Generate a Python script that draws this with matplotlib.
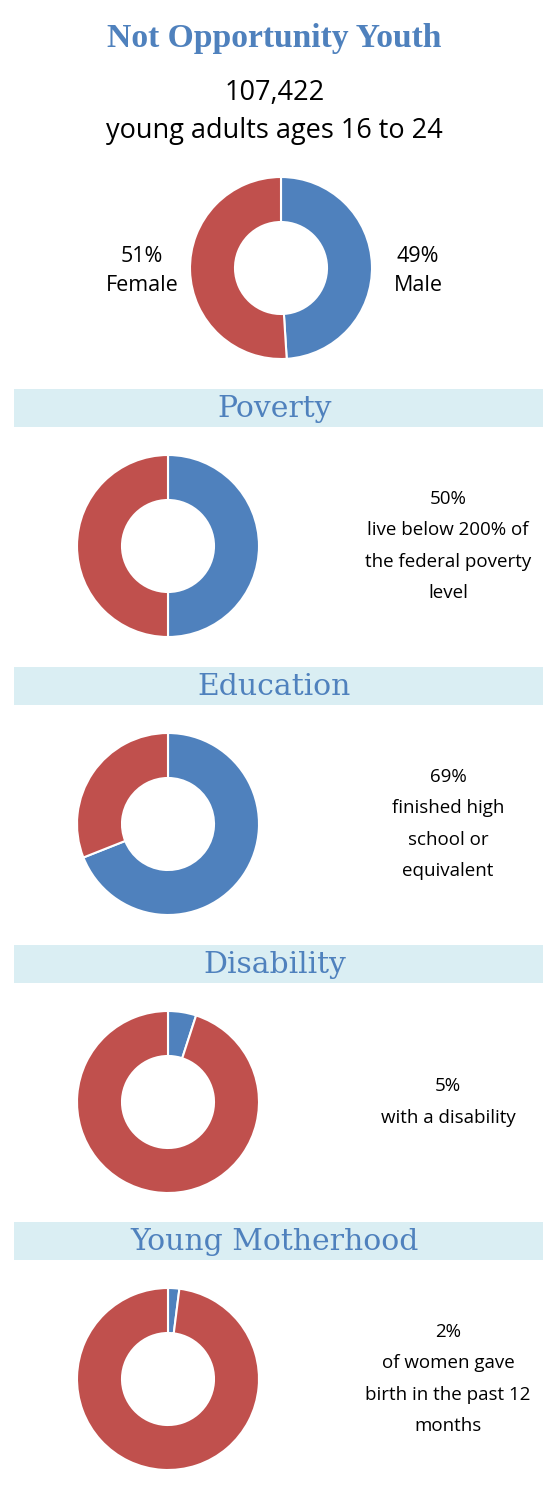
import matplotlib.pyplot as plt
from matplotlib.patches import Rectangle

# data
title = "Not Opportunity Youth"
total_label = "107,422"
total_desc = "young adults ages 16 to 24"
gender_labels = ["Male", "Female"]
gender_pct = [49, 51]
sections = ["Poverty", "Education", "Disability", "Young Motherhood"]
section_pct = [50, 69, 5, 2]
section_text = [
    "live below 200% of\nthe federal poverty\nlevel",
    "finished high\nschool or\nequivalent",
    "with a disability",
    "of women gave\nbirth in the past 12\nmonths",
]

BLUE = "#4F81BD"
RED = "#C0504D"
BAND = "#DAEEF3"

W, H = 549, 1492
fig = plt.figure(figsize=(W / 100, H / 100), dpi=100)
ax = fig.add_axes([0, 0, 1, 1])


def Y(y):
    # pixel row (top-down) -> data y (bottom-up)
    return H - y


def donut(cx, cy, pct):
    ax.pie([pct, 100 - pct], colors=[BLUE, RED], startangle=90, counterclock=False,
           center=(cx, Y(cy)), radius=91,
           wedgeprops=dict(width=45, edgecolor="white", linewidth=1.5))


ax.text(W / 2, Y(39), title, ha="center", va="center", fontsize=24.2,
        fontweight="bold", color=BLUE, family="Liberation Serif")
ax.text(W / 2, Y(93), total_label, ha="center", va="center", fontsize=19.5,
        color="black", family="Open Sans")
ax.text(W / 2, Y(131), total_desc, ha="center", va="center", fontsize=19.5,
        color="black", family="Open Sans")

donut(281, 268, gender_pct[0])
ax.text(142, Y(271), f"{gender_pct[1]}%\n{gender_labels[1]}", ha="center", va="center",
        fontsize=15.5, linespacing=1.45, family="Open Sans")
ax.text(418, Y(271), f"{gender_pct[0]}%\n{gender_labels[0]}", ha="center", va="center",
        fontsize=15.5, linespacing=1.45, family="Open Sans")

band_tops = [389, 667, 945, 1222]
for i, name in enumerate(sections):
    top = band_tops[i]
    ax.add_patch(Rectangle((14, Y(top + 38)), 529, 38, facecolor=BAND, edgecolor="none"))
    ax.text(W / 2, Y(top + 20), name, ha="center", va="center", fontsize=21.5,
            color=BLUE, family="DejaVu Serif")
    cy = top + 157
    donut(168, cy, section_pct[i])
    ax.text(448, Y(cy), f"{section_pct[i]}%\n{section_text[i]}", ha="center",
            va="center", fontsize=13.5, linespacing=1.95, family="Open Sans")

ax.set_xlim(0, W)
ax.set_ylim(0, H)
ax.set_aspect("auto")
ax.axis("off")
fig.savefig("out.png", dpi=100)
